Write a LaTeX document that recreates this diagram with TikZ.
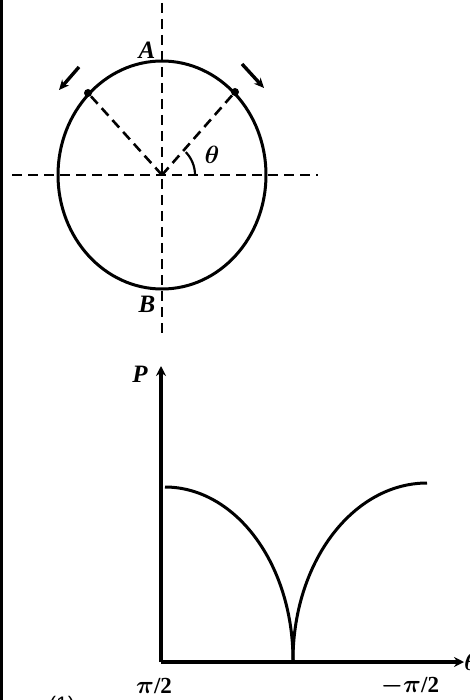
\documentclass[tikz,border=0pt]{standalone}
\usepackage{amsmath,amssymb}
\usepackage{fontspec}
\setmainfont{Liberation Serif}
\setsansfont{Liberation Sans}
\usepackage{tikz}
\usetikzlibrary{arrows.meta, calc}

\begin{document}
\begin{tikzpicture}[
  x=1pt, y=-1pt,
  guide/.style={line width=2.6pt, dash pattern=on 10pt off 6pt},
  rim/.style={line width=3pt},
  spin/.style={-{Stealth[length=10pt, width=9pt]}, line width=3.4pt},
  axis/.style={-{Stealth[length=10pt, width=10pt]}, line width=3.2pt},
  lbl/.style={font=\fontsize{25}{25}\selectfont\bfseries\itshape, inner sep=0pt},
  tick/.style={font=\fontsize{23}{23}\selectfont\bfseries, inner sep=0pt},
]
\useasboundingbox (0,0) rectangle (469,700);
\draw[line width=3pt] (1.5,0) -- (1.5,700);

% circle with the two reference lines
\coordinate (O) at (162,175);
\draw[rim] (O) ellipse [x radius=104, y radius=114];
\coordinate (vtop) at (162,3);
\coordinate (vbot) at (162,336);
\coordinate (hl) at (12,175);
\coordinate (hr) at (318,175);
\draw[guide] (vtop) -- (vbot);
\draw[guide] (hl) -- (hr);

% the two points on the rim
\coordinate (pl) at (88,93);
\coordinate (pr) at (235,92);
\draw[guide] (O) -- (pl);
\draw[guide] (O) -- (pr);
\fill (pl) circle (4);
\fill (pr) circle (4);

% direction of motion
\coordinate (al1) at (79,67);
\coordinate (al2) at (59,90);
\coordinate (ar1) at (242,64);
\coordinate (ar2) at (264,88);
\draw[spin] (al1) -- (al2);
\draw[spin] (ar1) -- (ar2);

% angle mark
\draw[line width=2.2pt] ($(O)+(33,0)$) arc[start angle=0, end angle=-44, radius=33];
\node[lbl] (th) at (212,155) {$\boldsymbol{\theta}$};
\node[lbl] (A) at (147,50) {A};
\node[lbl] (B) at (147,304) {B};

% graph of P against theta
\coordinate (G) at (161,662);
\coordinate (Ptop) at (161,366);
\coordinate (Tend) at (464,662);
\draw[axis] (G) -- (Ptop);
\draw[axis] (G) -- (Tend);
\node[lbl] (P) at (140,374) {P};
\node[lbl, anchor=west] (Tlab) at (464,662) {$\boldsymbol{\theta}$};

\draw[rim] plot[domain=0:90, samples=60] ({165+128*sin(\x)}, {660-173*cos(\x)});
\draw[rim] plot[domain=0:90, samples=60] ({427-134*sin(\x)}, {483+177*(1-cos(\x))});

\node[tick] (t1) at (154,686) {$\boldsymbol{\pi}$/2};
\node[tick] (t2) at (410,686) {$\boldsymbol{-\pi}$/2};
\node[font=\fontsize{21}{21}\selectfont\sffamily, inner sep=0pt] (n1) at (62,706) {(1)};
\end{tikzpicture}
\end{document}
